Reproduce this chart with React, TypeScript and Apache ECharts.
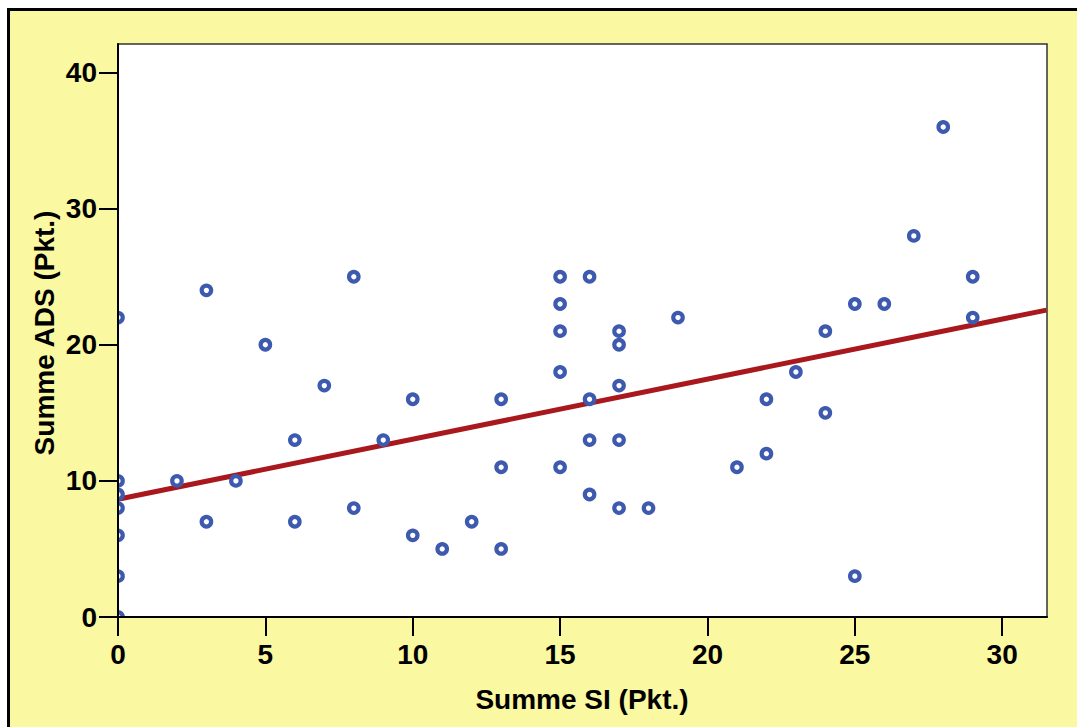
import React, { useEffect, useRef } from "react";
import * as echarts from "echarts";

const sumSI: number[] = [
  0, 0, 0, 0, 0, 0, 0,
  2, 3, 3, 4, 5, 6, 6, 7, 8, 8, 9, 10, 10, 11, 12, 13, 13, 13,
  15, 15, 15, 15, 15, 16, 16, 16, 16, 17, 17, 17, 17, 17, 18, 19,
  21, 22, 22, 23, 24, 24, 25, 25, 26, 27, 28, 29, 29,
];
const sumADS: number[] = [
  22, 10, 9, 8, 6, 3, 0,
  10, 24, 7, 10, 20, 13, 7, 17, 25, 8, 13, 16, 6, 5, 7, 16, 11, 5,
  25, 23, 21, 18, 11, 25, 16, 13, 9, 21, 20, 17, 13, 8, 8, 22,
  11, 16, 12, 18, 21, 15, 23, 3, 23, 28, 36, 25, 22,
];
const fitLineX: number[] = [0, 31.5];
const fitLineY: number[] = [8.65, 22.55];
const xTicks: number[] = [0, 5, 10, 15, 20, 25, 30];
const yTicks: number[] = [0, 10, 20, 30, 40];

const YELLOW = "#faf8a0";
const BLUE = "#3d5aae";
const RED = "#a8181c";
const FONT = "'Liberation Sans', Arial, sans-serif";

export default function App() {
  const ref = useRef<HTMLDivElement>(null);
  useEffect(() => {
    if (!ref.current) return;
    const chart = echarts.init(ref.current, undefined, { renderer: "svg" });
    const points = sumSI.map((x, i) => [x, sumADS[i]]);
    const line = fitLineX.map((x, i) => [x, fitLineY[i]]);
    const axisLabel = {
      color: "#000",
      fontFamily: FONT,
      fontWeight: "bold" as const,
      fontSize: 28,
    };
    chart.setOption({
      animation: false,
      backgroundColor: "#fff",
      graphic: [
        {
          type: "rect",
          z: -10,
          silent: true,
          shape: { x: 8.5, y: 9.5, width: 1100, height: 800 },
          style: { fill: YELLOW, stroke: "#000", lineWidth: 3 },
        },
        // masks to clip the markers at the plot edges
        {
          type: "rect",
          z: 3,
          silent: true,
          shape: { x: 60, y: 40, width: 57.5, height: 600 },
          style: { fill: YELLOW },
        },
        {
          type: "rect",
          z: 3,
          silent: true,
          shape: { x: 60, y: 617.5, width: 1000, height: 20 },
          style: { fill: YELLOW },
        },
        {
          type: "text",
          z: 10,
          x: 44,
          y: 333,
          rotation: Math.PI / 2,
          style: {
            text: "Summe ADS (Pkt.)",
            font: `bold 28px ${FONT}`,
            fill: "#000",
            align: "center",
            verticalAlign: "middle",
          },
        },
        {
          type: "text",
          z: 10,
          x: 582,
          y: 699,
          style: {
            text: "Summe SI (Pkt.)",
            font: `bold 28px ${FONT}`,
            fill: "#000",
            align: "center",
            verticalAlign: "middle",
          },
        },
      ],
      grid: {
        left: 118,
        top: 44,
        right: 30,
        bottom: 110,
        show: true,
        backgroundColor: "#fff",
        borderColor: "#333",
        borderWidth: 1.5,
        containLabel: false,
      },
      xAxis: {
        type: "value",
        min: 0,
        max: 31.52,
        interval: 5,
        z: 20,
        axisLine: { show: true, onZero: false, lineStyle: { color: "#000", width: 2 } },
        axisTick: { show: true, length: 19, lineStyle: { color: "#000", width: 2 }, customValues: xTicks },
        axisLabel: { ...axisLabel, margin: 23, customValues: xTicks },
        splitLine: { show: false },
      },
      yAxis: {
        type: "value",
        min: 0,
        max: 42.1,
        interval: 10,
        z: 20,
        axisLine: { show: true, onZero: false, lineStyle: { color: "#000", width: 2 } },
        axisTick: { show: true, length: 19, lineStyle: { color: "#000", width: 2 }, customValues: yTicks },
        axisLabel: { ...axisLabel, margin: 21, customValues: yTicks },
        splitLine: { show: false },
      },
      series: [
        {
          type: "line",
          data: line,
          symbol: "none",
          z: 1,
          lineStyle: { color: RED, width: 5 },
        },
        {
          type: "scatter",
          data: points,
          symbol: "circle",
          symbolSize: 9.5,
          z: 2,
          clip: false,
          itemStyle: { color: "#fff", borderColor: BLUE, borderWidth: 4.2, opacity: 1 },
        },
      ],
    });
    return () => chart.dispose();
  }, []);
  return (
    <div
      ref={ref}
      style={{ position: "fixed", left: 0, top: 0, width: 1077, height: 727 }}
    />
  );
}
